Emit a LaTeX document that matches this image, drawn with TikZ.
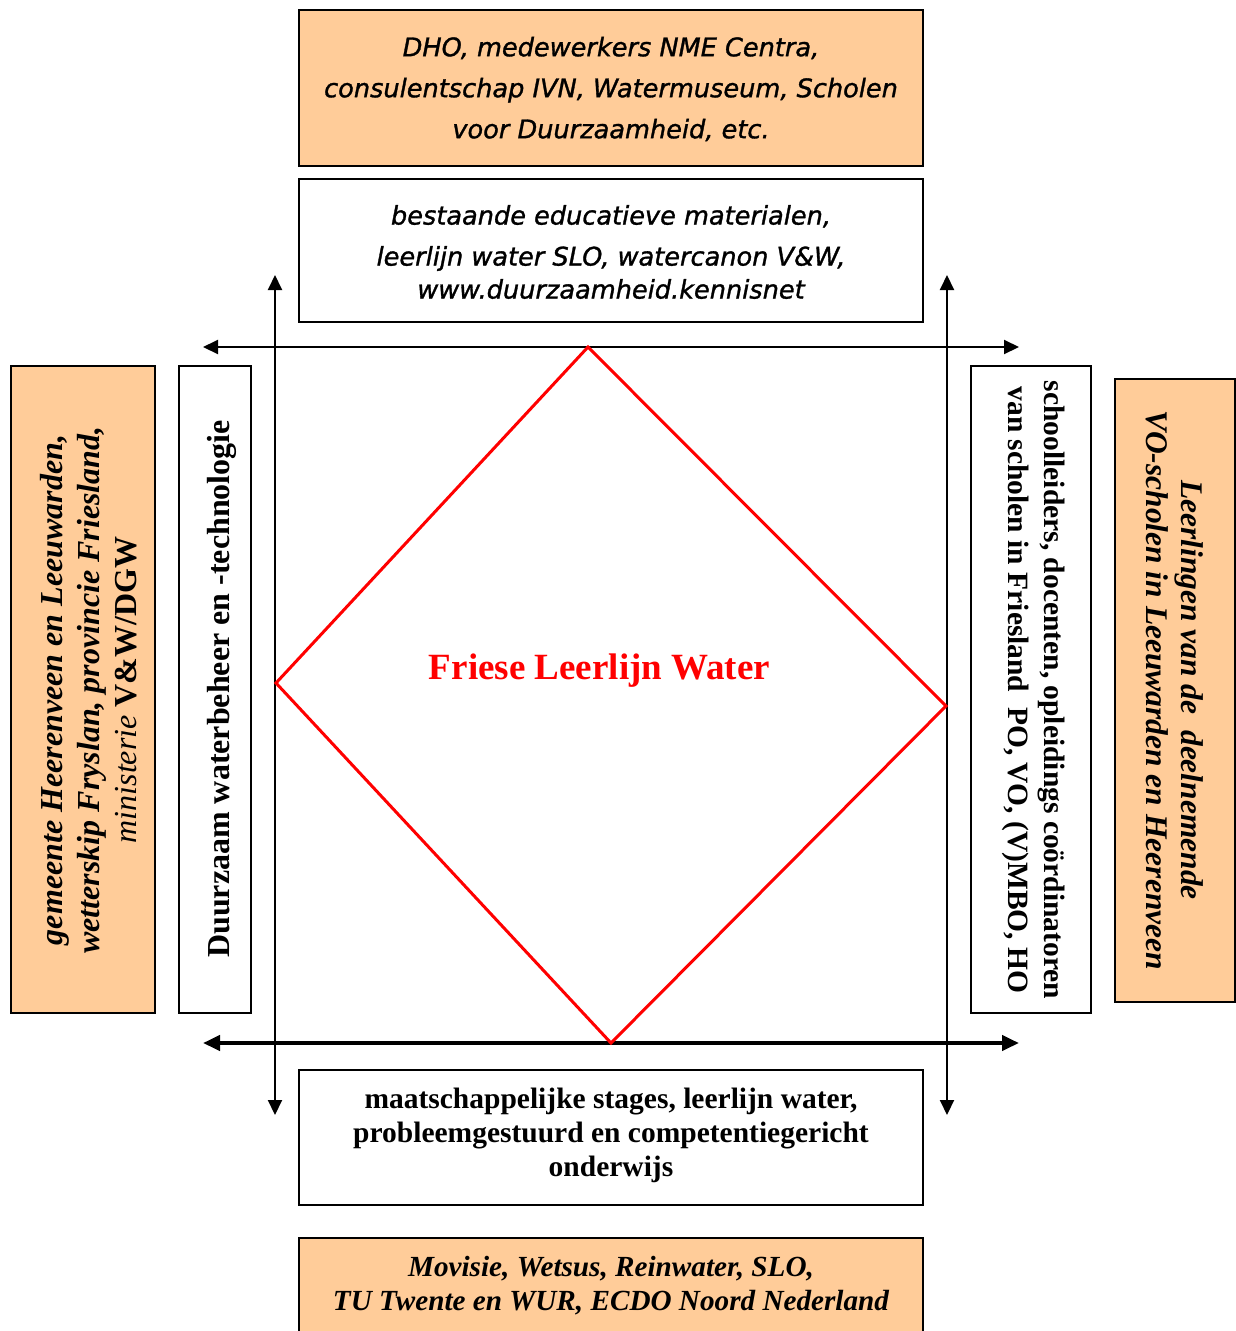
\documentclass[tikz,border=0pt]{standalone}
\usepackage{fontspec}
\setmainfont{Liberation Serif}
\newfontfamily\vsans{DejaVu Sans}[FakeBold=1.2]
\usetikzlibrary{arrows.meta}
\definecolor{peach}{HTML}{FFCC99}
\definecolor{fred}{HTML}{FF0000}
\begin{document}
\begin{tikzpicture}[x=1pt,y=-1pt,
  box/.style={draw=black, line width=2pt, inner sep=0pt, fill=white},
  obox/.style={box, fill=peach},
  arr/.style={line width=2pt, {Triangle[length=15pt,width=14pt]}-{Triangle[length=15pt,width=14pt]}},
  arrthick/.style={line width=4pt, {Triangle[length=17pt,width=15pt]}-{Triangle[length=17pt,width=15pt]}},
  sanstxt/.style={font=\vsans\itshape\fontsize{25.6}{41}\selectfont, align=center},
  boldtxt/.style={font=\bfseries\fontsize{29.5}{34}\selectfont, align=center},
  bitxt/.style={font=\bfseries\itshape\fontsize{29.2}{34}\selectfont, align=center}]
\useasboundingbox (0,0) rectangle (1236,1331);
\clip (0,0) rectangle (1236,1331);
\fill[white] (0,0) rectangle (1236,1331);

% boxes
\node[obox, minimum width=624pt, minimum height=156pt] (topO) at (611,88) {};
\node[box, minimum width=624pt, minimum height=143pt] (topW) at (611,250.5) {};
\node[obox, minimum width=144pt, minimum height=647pt] (leftO) at (83,689.5) {};
\node[box, minimum width=72pt, minimum height=647pt] (leftW) at (215,689.5) {};
\node[box, minimum width=120pt, minimum height=647pt] (rightW) at (1031,689.5) {};
\node[obox, minimum width=120pt, minimum height=623pt] (rightO) at (1175,690.5) {};
\node[box, minimum width=624pt, minimum height=135pt] (botW) at (611,1137.5) {};
\node[obox, minimum width=624pt, minimum height=110pt] (botO) at (611,1293) {};

% texts
\node[sanstxt] (tTopO) at (611,89) {DHO, medewerkers NME Centra,\\consulentschap IVN, Watermuseum, Scholen\\voor Duurzaamheid, etc.};
\node[sanstxt] (tTopW) at (611,252) {bestaande educatieve materialen,\\leerlijn water SLO, watercanon V\&W,\\[-8pt]www.duurzaamheid.kennisnet};
\node[boldtxt] (tBotW) at (611,1135) {maatschappelijke stages, leerlijn water,\\probleemgestuurd en competentiegericht\\onderwijs};
\node[bitxt] (tBotO) at (611,1286) {Movisie, Wetsus, Reinwater, SLO,\\TU Twente en WUR, ECDO Noord Nederland};
\node[rotate=90, font=\bfseries\itshape\fontsize{32}{37}\selectfont, align=center] (tLeftO) at (89,690) {gemeente Heerenveen en Leeuwarden,\\wetterskip Fryslan, provincie Friesland,\\{\mdseries ministerie} {\upshape V\&W/DGW}};
\node[rotate=90, font=\bfseries\fontsize{32}{38}\selectfont] (tLeftW) at (222,689) {Duurzaam waterbeheer en -technologie};
\node[rotate=-90, font=\bfseries\fontsize{29.5}{36}\selectfont, align=center] (tRightW) at (1034,690) {schoolleiders, docenten, opleidings coördinatoren\\van scholen in Friesland\ \ PO, VO, (V)MBO, HO};
\node[rotate=-90, font=\bfseries\itshape\fontsize{31.5}{35}\selectfont, align=center] (tRightO) at (1175,690) {Leerlingen van de\ \ deelnemende\\VO-scholen in Leeuwarden en Heerenveen};

% arrows
\coordinate (LT) at (275,275);
\coordinate (LB) at (275,1115);
\coordinate (RT) at (947,275);
\coordinate (RB) at (947,1115);
\coordinate (HTL) at (203,347);
\coordinate (HTR) at (1019,347);
\coordinate (HBL) at (203,1043);
\coordinate (HBR) at (1019,1043);
\draw[arr] (LT) -- (LB);
\draw[arr] (RT) -- (RB);
\draw[arr] (HTL) -- (HTR);
\draw[arrthick] (HBL) -- (HBR);

% diamond
\coordinate (DT) at (588,347);
\coordinate (DL) at (276,683);
\coordinate (DR) at (946,706);
\coordinate (DB) at (611,1043);
\draw[fred, line width=3pt, line join=miter] (DT) -- (DR) -- (DB) -- (DL) -- cycle;

\node[font=\bfseries\fontsize{37}{44}\selectfont, text=fred] (title) at (599.5,671) {Friese Leerlijn Water};
\end{tikzpicture}
\end{document}
